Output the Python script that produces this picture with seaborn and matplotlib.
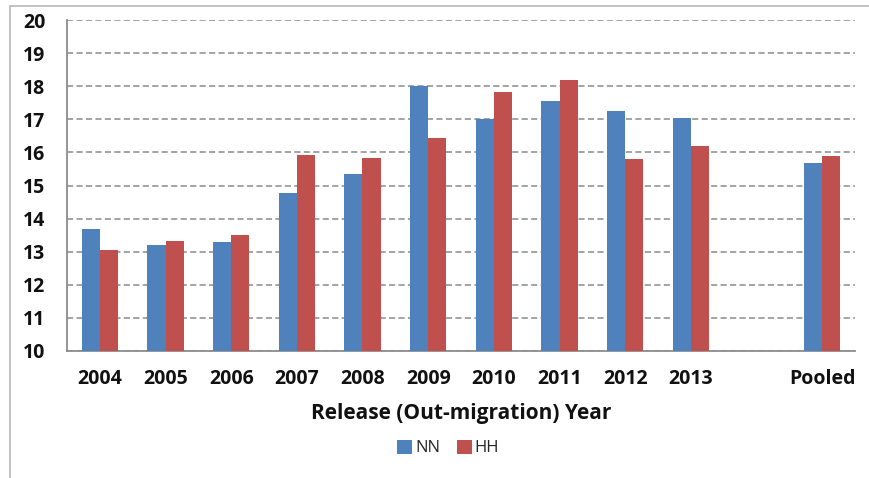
import matplotlib
matplotlib.use("Agg")
import matplotlib.pyplot as plt
from matplotlib.lines import Line2D
from matplotlib.patches import Patch
import seaborn as sns
import pandas as pd
import numpy as np

categories = ["2004", "2005", "2006", "2007", "2008", "2009", "2010", "2011", "2012", "2013", " ", "Pooled"]
nn_values = [13.68, 13.20, 13.30, 14.77, 15.34, 18.00, 17.00, 17.56, 17.25, 17.03, None, 15.69]
hh_values = [13.04, 13.33, 13.50, 15.92, 15.84, 16.45, 17.81, 18.18, 15.79, 16.20, None, 15.90]
series = ["NN", "HH"]
colors = ["#4F81BD", "#C0504D"]
y_ticks = [10, 11, 12, 13, 14, 15, 16, 17, 18, 19, 20]
x_label = "Release (Out-migration) Year"

rows = []
for c, n, h in zip(categories, nn_values, hh_values):
    if n is not None:
        rows.append({"cat": c, "group": "NN", "value": n})
    if h is not None:
        rows.append({"cat": c, "group": "HH", "value": h})
df = pd.DataFrame(rows)

sns.set_style("white")
plt.rcParams["font.family"] = ["Open Sans", "DejaVu Sans"]

fig = plt.figure(figsize=(8.7, 4.78), dpi=100)
ax = fig.add_axes([67 / 870, 1 - 351 / 478, (855 - 67) / 870, (351 - 20) / 478])

sns.barplot(data=df, x="cat", y="value", hue="group", order=categories,
            hue_order=series, palette=colors, width=0.55, gap=0, saturation=1,
            ax=ax, legend=False, edgecolor="none", linewidth=0, zorder=3)

ax.set_ylim(10, 20)
ax.set_xlim(-0.5, len(categories) - 0.5)
ax.set_yticks(y_ticks)
ax.set_yticklabels([str(t) for t in y_ticks], fontsize=14, fontweight="bold", color="#111111")

ax.set_xticks(np.arange(len(categories)))
ax.set_xticklabels([c.strip() for c in categories], fontsize=14, fontweight="bold", color="#111111")
ax.set_xticks(np.arange(len(categories) + 1) - 0.5, minor=True)
ax.tick_params(axis="x", which="major", length=0, pad=13)
ax.tick_params(axis="x", which="minor", length=5, width=1.2, color="#8c8c8c", direction="out")
ax.tick_params(axis="y", which="major", length=6.5, width=1.2, color="#8c8c8c", direction="out", pad=9)

ax.yaxis.grid(True, linestyle=(0, (4, 2.2)), color="#8a8a8a", linewidth=1.1, zorder=0)
ax.set_axisbelow(True)

for s in ["top", "right"]:
    ax.spines[s].set_visible(False)
for s in ["left", "bottom"]:
    ax.spines[s].set_visible(True)
    ax.spines[s].set_color("#8c8c8c")
    ax.spines[s].set_linewidth(1.3)

ax.set_ylabel("")
ax.set_xlabel(x_label, fontsize=15, fontweight="bold", color="#111111", labelpad=10)

handles = [Patch(facecolor=colors[0], edgecolor="none"), Patch(facecolor=colors[1], edgecolor="none")]
fig.legend(handles, series, loc="center", bbox_to_anchor=(448 / 870, 1 - 448 / 478),
           ncol=2, frameon=False, fontsize=12, handlelength=0.9, handleheight=0.9,
           handletextpad=0.15, columnspacing=1.0, borderpad=0)

# figure border lines (left and top)
fig.add_artist(Line2D([10 / 870, 10 / 870], [0, 1 - 6 / 478], color="#bdbdbd", linewidth=1.3, transform=fig.transFigure))
fig.add_artist(Line2D([10 / 870, 1], [1 - 6 / 478, 1 - 6 / 478], color="#bdbdbd", linewidth=1.3, transform=fig.transFigure))

fig.savefig("out.png", dpi=100)
